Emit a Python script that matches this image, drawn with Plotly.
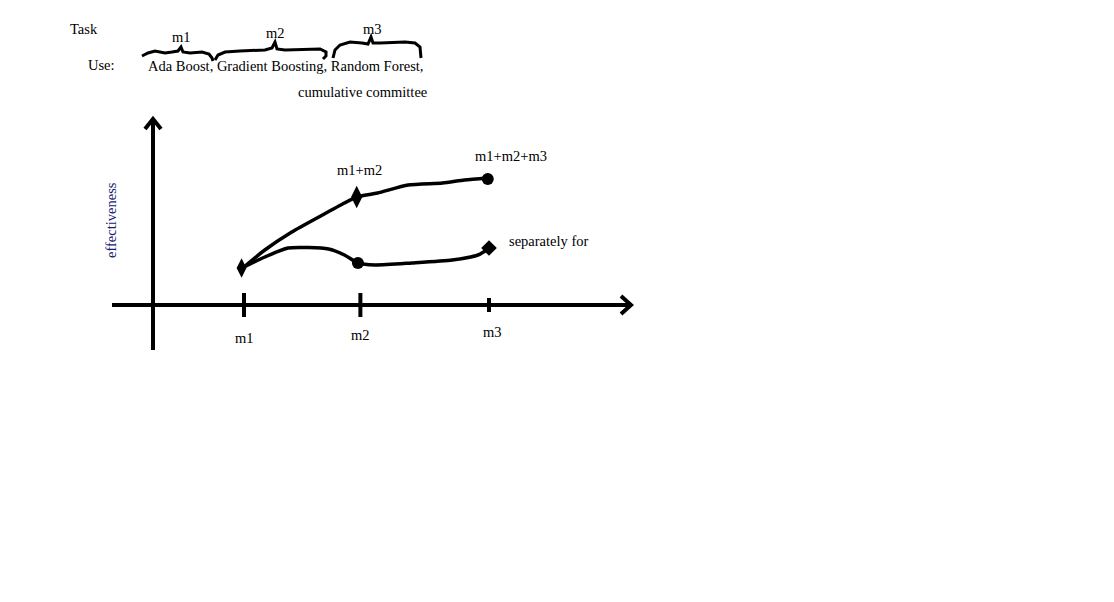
import plotly.graph_objects as go

# ---------------- data (sketch units) ----------------
tick_labels = ["m1", "m2", "m3"]
tick_x = [1.0, 1.95, 3.0]

combined_x = [1.0, 1.17, 1.39, 1.64, 1.82, 1.92, 2.09, 2.34, 2.62, 2.80, 2.99]
combined_y = [1.9, 2.75, 3.65, 4.5, 5.1, 5.4, 5.6, 6.0, 6.1, 6.25, 6.35]
combined_mark_x = [0.98, 1.92, 2.99]
combined_mark_y = [1.85, 5.4, 6.3]

separate_x = [1.0, 1.17, 1.36, 1.69, 1.82, 1.93, 2.07, 2.37, 2.70, 2.91, 3.02]
separate_y = [1.9, 2.4, 2.85, 2.8, 2.5, 2.1, 2.0, 2.1, 2.25, 2.5, 2.9]
separate_mark_x = [1.93, 3.0]
separate_mark_y = [2.1, 2.85]

curve_labels = ["m1+m2", "m1+m2+m3", "separately for"]
models = ["Ada Boost", "Gradient Boosting", "Random Forest"]
y_title = "effectiveness"

# ---------------- geometry ----------------
W, H = 1114, 602
OFF = 8  # page body margin
PX_PER_X = 122.5
X0_PX = 244 - OFF
PX_PER_Y = 20.0
Y0_PX = 305 - OFF
x_range = [1 - X0_PX / PX_PER_X, 1 + (W - X0_PX) / PX_PER_X]
y_range = [-(H - Y0_PX) / PX_PER_Y, Y0_PX / PX_PER_Y]

FONT = "Liberation Serif"
INK = "black"
FS = 14.5

fig = go.Figure()

fig.add_trace(go.Scatter(x=combined_x, y=combined_y, mode="lines",
                         line=dict(color=INK, width=3.5, shape="spline", smoothing=0.6),
                         hoverinfo="skip"))
fig.add_trace(go.Scatter(x=separate_x, y=separate_y, mode="lines",
                         line=dict(color=INK, width=3.5, shape="spline", smoothing=0.6),
                         hoverinfo="skip"))
fig.add_trace(go.Scatter(x=combined_mark_x, y=combined_mark_y, mode="markers",
                         marker=dict(color=INK, size=[14, 16, 12], opacity=1,
                                     line=dict(width=0),
                                     symbol=["diamond-tall", "diamond-tall", "circle"]),
                         hoverinfo="skip"))
fig.add_trace(go.Scatter(x=separate_mark_x, y=separate_mark_y, mode="markers",
                         marker=dict(color=INK, size=[12, 12], opacity=1,
                                     line=dict(width=0), symbol=["circle", "diamond"]),
                         hoverinfo="skip"))
# invisible trace to activate pixel overlay axes
fig.add_trace(go.Scatter(x=[0], y=[0], xaxis="x2", yaxis="y2", mode="markers",
                         marker=dict(opacity=0), hoverinfo="skip"))

shapes = []
xa_left = 1 + (112 - OFF - X0_PX) / PX_PER_X
xa_right = 1 + (632 - OFF - X0_PX) / PX_PER_X
ya_x = 1 + (153 - OFF - X0_PX) / PX_PER_X
ya_bottom = (Y0_PX - (350 - OFF)) / PX_PER_Y
ya_top = (Y0_PX - (118 - OFF)) / PX_PER_Y
shapes.append(dict(type="line", xref="x", yref="y", x0=xa_left, x1=xa_right, y0=0, y1=0,
                   line=dict(color=INK, width=4)))
shapes.append(dict(type="line", xref="x", yref="y", x0=ya_x, x1=ya_x, y0=ya_bottom, y1=ya_top,
                   line=dict(color=INK, width=4)))
tick_half = [0.6, 0.6, 0.35]
for tx, th in zip(tick_x, tick_half):
    shapes.append(dict(type="line", xref="x", yref="y", x0=tx, x1=tx, y0=-th, y1=th,
                       line=dict(color=INK, width=4)))

def poly(pts):
    return "M " + " L ".join(f"{x},{y}" for x, y in pts)

deco = [
    [(145, 129), (153, 119), (161, 129)],
    [(621, 296), (631, 305), (621, 314)],
    [(142, 56), (148, 53), (155, 51), (165, 53), (172, 52), (178, 51), (181, 47), (183, 52),
     (190, 53), (202, 52), (209, 54), (212, 58), (213, 61)],
    [(215, 60), (218, 55), (225, 52), (240, 51), (265, 50), (272, 48), (275, 42), (277, 49),
     (285, 50), (320, 49), (326, 52), (326, 56), (323, 59)],
    [(333, 58), (335, 50), (340, 45), (350, 42), (362, 43), (368, 44), (371, 37), (373, 43),
     (380, 43), (405, 42), (415, 43), (420, 47), (421, 58)],
]
for i, pts in enumerate(deco):
    shapes.append(dict(type="path", xref="x2", yref="y2", path=poly(pts),
                       line=dict(color=INK, width=4 if i < 2 else 3)))

annotations = []
def txt(text, x, y, xanchor="center", color=INK, angle=0, size=FS):
    annotations.append(dict(text=text, x=x, y=y, xref="x2", yref="y2", showarrow=False,
                            xanchor=xanchor, yanchor="middle", textangle=angle,
                            font=dict(family=FONT, size=size, color=color)))

txt("Task", 84, 29)
txt(tick_labels[0], 181, 37)
txt(tick_labels[1], 275, 33)
txt(tick_labels[2], 372, 29)
txt("Use:", 101, 65)
txt(", ".join(models) + ",", 146, 66, xanchor="left")
txt("cumulative committee", 362, 92)
txt(curve_labels[0], 359, 170)
txt(curve_labels[1], 511, 156)
txt(curve_labels[2], 548, 241)
txt(y_title, 111, 220, color="#1a1a72", angle=-90)

for lab, tx, dy in zip(tick_labels, tick_x, [-1.65, -1.5, -1.35]):
    annotations.append(dict(text=lab, x=tx + (0.03 if lab == "m3" else 0), y=dy,
                            xref="x", yref="y", showarrow=False,
                            font=dict(family=FONT, size=FS, color=INK)))

fig.update_layout(
    width=W, height=H,
    margin=dict(l=0, r=0, t=0, b=0, pad=0),
    paper_bgcolor="white", plot_bgcolor="white",
    showlegend=False,
    xaxis=dict(range=x_range, visible=False, domain=[0, 1]),
    yaxis=dict(range=y_range, visible=False, domain=[0, 1]),
    xaxis2=dict(range=[OFF, W + OFF], visible=False, overlaying="x", domain=[0, 1]),
    yaxis2=dict(range=[H + OFF, OFF], visible=False, overlaying="y", domain=[0, 1]),
    shapes=shapes,
    annotations=annotations,
)

fig.write_html("out.html", config={"displayModeBar": False})
